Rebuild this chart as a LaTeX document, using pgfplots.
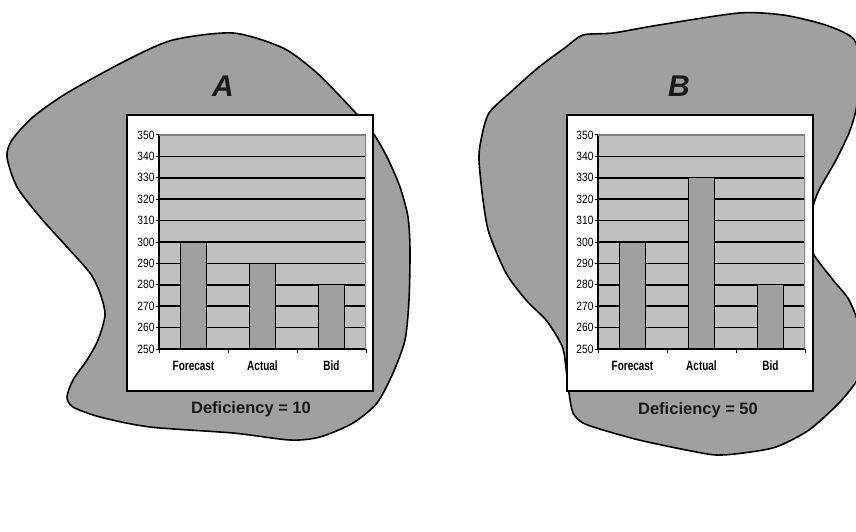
\documentclass[border=0pt]{standalone}
\usepackage{pgfplots}
\pgfplotsset{compat=1.18}
\usepackage{fontspec}
\setmainfont{Liberation Sans}
\newfontfamily\narrowf[FakeStretch=0.85]{Liberation Sans}
\newfontfamily\narrowbf[FakeStretch=0.74]{Liberation Sans Bold}
\definecolor{blobg}{HTML}{A0A0A0}
\definecolor{plotg}{HTML}{C0C0C0}
\definecolor{barg}{HTML}{A0A0A0}
\definecolor{bordg}{HTML}{808080}
\definecolor{txt}{HTML}{1A1A1A}
\pgfplotsset{
  mychart/.style={
    anchor=south west,
    scale only axis, width=207pt, height=214pt,
    xmin=-0.5, xmax=2.5, ymin=250, ymax=350,
    axis x line*=bottom, axis y line*=left,
    axis line style={-, black, line width=1.3pt},
    axis background/.style={fill=plotg},
    ytick={250,260,...,350},
    /pgf/number format/assume math mode=true,
    ymajorgrids, major grid style={black, line width=1.5pt},
    yticklabel style={font=\narrowf\fontsize{12}{12}\selectfont, xshift=2.5pt},
    tick align=outside, major tick length=3.5pt,
    tick style={black, line width=1pt},
    xtick={-0.5,0.5,1.5,2.5}, xticklabels={},
    extra x ticks={0,1,2}, extra x tick labels={Forecast,Actual,Bid},
    extra x tick style={major tick length=0pt, tick style={draw=none},
      xticklabel style={font=\narrowbf\fontsize{13.5}{14}\selectfont, text height=10pt, text depth=0pt, yshift=-8pt}},
    ybar, bar width=26pt,
    clip=true,
  }
}
\begin{document}
\begin{tikzpicture}
\clip (0,0) rectangle (856pt,531pt);
\path (0,0) rectangle (856pt,531pt);
\begin{scope}[x=1pt,y=-1pt,yshift=531pt]
% blob A
\draw[fill=blobg, line width=1.6pt, line join=round] plot[smooth cycle, tension=0.45] coordinates {
(233,33) (283,48) (317,73) (353,110) (373,133) (387,157) (400,187) (408,217) (410,250) (409,300) (405,340) (393,373) (377,403) (353,423) (320,437) (290,440) (233,433) (150,427) (100,417) (73,407) (67,397) (73,380) (87,360) (98,340) (105,315) (100,293) (90,273) (67,247) (40,217) (17,187) (7,157) (12,140) (33,117) (67,93) (127,60) (173,40)};
% blob B
\draw[fill=blobg, line width=1.6pt, line join=round] plot[smooth cycle, tension=0.45] coordinates {
(583,35) (613,33) (659,25) (739,13) (783,15) (819,23) (843,32) (856,43) (860,80) (856,110) (849,133) (836,160) (819,190) (813,207) (810,230) (813,253) (833,280) (849,300) (860,330) (860,370) (856,382) (839,403) (809,430) (776,447) (743,453) (716,455) (686,450) (639,440) (603,430) (583,423) (573,413) (569,393) (564,353) (559,340) (546,320) (526,300) (506,273) (489,233) (483,200) (479,160) (481,140) (489,113) (513,90) (539,67) (566,47)};
% white boxes
\draw[fill=white, line width=1.8pt] (127,115) rectangle (373,391);
\draw[fill=white, line width=1.8pt] (567,115) rectangle (813,391);
% titles
\node[font=\bfseries\itshape\fontsize{30}{30}\selectfont, text=txt] at (223,86) {A};
\node[font=\bfseries\itshape\fontsize{30}{30}\selectfont, text=txt] at (679,86) {B};
\node[font=\bfseries\fontsize{16.5}{17}\selectfont, text=txt] at (251,409) {Deficiency = 10};
\node[font=\bfseries\fontsize{16.5}{17}\selectfont, text=txt] at (698,410) {Deficiency = 50};
\end{scope}

\begin{axis}[mychart, at={(159pt,182pt)}]
\addplot[fill=barg, draw=black, line width=1.3pt] coordinates {(0,300) (1,290) (2,280)};
\draw[bordg, line width=1.4pt] (rel axis cs:0,1) -- (rel axis cs:1,1) -- (rel axis cs:1,0);
\end{axis}

\begin{axis}[mychart, at={(598pt,182pt)}]
\addplot[fill=barg, draw=black, line width=1.3pt] coordinates {(0,300) (1,330) (2,280)};
\draw[bordg, line width=1.4pt] (rel axis cs:0,1) -- (rel axis cs:1,1) -- (rel axis cs:1,0);
\end{axis}
\end{tikzpicture}
\end{document}
